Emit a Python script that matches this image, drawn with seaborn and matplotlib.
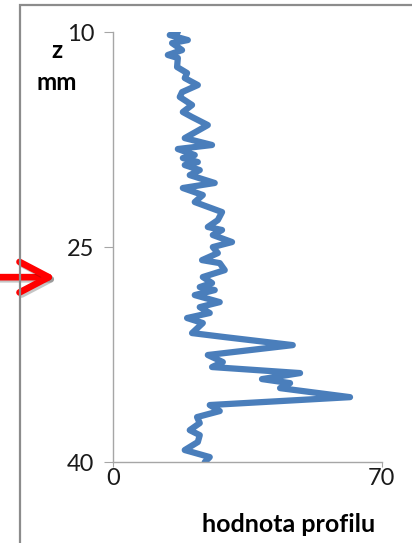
#%% imports
import numpy as np
import pandas as pd
import matplotlib
matplotlib.use("Agg")
import matplotlib.pyplot as plt
import matplotlib.patheffects as pe
from matplotlib.patches import Rectangle
import seaborn as sns

#%% data (depth z in mm, profile value)
depth = [10.0, 10.21, 10.56, 10.77, 11.26, 11.60, 11.81, 12.44, 12.86, 13.21,
         13.70, 14.19, 14.53, 15.09, 15.58, 15.93, 16.49, 17.40, 17.88, 18.16,
         18.58, 18.79, 19.07, 19.28, 19.63, 19.98, 20.53, 20.88, 21.37, 21.86,
         22.56, 23.12, 23.60, 23.81, 24.16, 24.65, 25.00, 25.42, 25.91, 26.12,
         26.61, 27.09, 27.51, 27.79, 28.00, 28.35, 28.84, 29.19, 29.60, 29.95,
         30.30, 31.00, 31.28, 31.84, 32.53, 33.02, 33.37, 33.79, 34.21, 34.49,
         34.84, 35.47, 36.02, 36.44, 36.86, 37.28, 37.77, 38.12, 38.60, 39.16,
         39.65, 40.0]
profile = [16.9, 14.8, 19.5, 15.4, 18.0, 14.3, 16.9, 16.7, 19.3, 18.7,
           22.1, 18.0, 17.4, 20.6, 18.2, 20.6, 24.7, 18.7, 25.8, 16.9,
           21.3, 18.2, 22.1, 18.7, 22.6, 20.0, 26.5, 18.2, 23.4, 21.3,
           28.4, 27.3, 24.7, 28.4, 26.0, 31.0, 26.0, 27.3, 23.2, 27.8,
           29.1, 23.4, 25.8, 22.6, 26.5, 21.3, 27.8, 22.6, 25.2, 19.3,
           23.4, 20.6, 29.1, 46.8, 24.7, 28.6, 25.8, 48.7, 38.8, 46.1,
           43.5, 61.7, 25.2, 27.8, 21.9, 22.6, 20.0, 22.6, 22.1, 18.7,
           25.2, 23.9]

y_ticks = [10, 25, 40]
x_ticks = [0, 70]
arrow_depth = 27.1

df = pd.DataFrame({"z": depth, "hodnota": profile})

#%% style
sns.set_theme(style="white")
plt.rcParams["font.family"] = ["Lato", "DejaVu Sans"]

fig = plt.figure(figsize=(4.12, 5.43), dpi=100)
ax = fig.add_axes([0.274, 0.149, 0.653, 0.792])

sns.lineplot(data=df, x="hodnota", y="z", sort=False, estimator=None,
             color="#4a7ebb", linewidth=4.5, ax=ax,
             solid_joinstyle="round", solid_capstyle="round")

ax.set_xlim(0, 70)
ax.set_ylim(40, 10)
ax.set_xticks(x_ticks)
ax.set_yticks(y_ticks)
ax.set_xlabel("")
ax.set_ylabel("")

for side in ["top", "right"]:
    ax.spines[side].set_visible(False)
for side in ["left", "bottom"]:
    ax.spines[side].set_color("#a6a6a6")
    ax.spines[side].set_linewidth(1.0)

ax.tick_params(axis="y", direction="out", length=6.5, width=0.8,
               color="#a6a6a6", pad=7, labelsize=17, labelcolor="#1a1a1a")
ax.tick_params(axis="x", direction="out", length=3.5, width=0.8,
               color="#a6a6a6", pad=1, labelsize=17, labelcolor="#1a1a1a")
ax.tick_params(left=True, bottom=True)

# axis captions
fig.text(57 / 412, 1 - 50 / 543, "z", ha="center", va="center",
         fontsize=17.5, fontweight="bold", color="black")
fig.text(57 / 412, 1 - 83 / 543, "mm", ha="center", va="center",
         fontsize=17.5, fontweight="bold", color="black")
fig.text(289 / 412, 1 - 525 / 543, "hodnota profilu", ha="center",
         va="center", fontsize=18, fontweight="bold", color="black")

# red arrow pointing at the depth of interest
ax.annotate("", xy=(-0.212, arrow_depth), xytext=(-0.45, arrow_depth),
            xycoords=("axes fraction", "data"),
            textcoords=("axes fraction", "data"),
            arrowprops=dict(arrowstyle="->,head_length=1.05,head_width=0.55",
                            mutation_scale=20,
                            color="red", lw=4.8, capstyle="round",
                            joinstyle="round", shrinkA=0, shrinkB=0,
                            path_effects=[pe.SimpleLineShadow(offset=(1.5, -1.5), alpha=0.25),
                                          pe.Normal()]),
            annotation_clip=False)

# outer chart frame
fig.patches.append(Rectangle((20 / 412, -0.2), 1.2, 1.2 - 5 / 543,
                             transform=fig.transFigure, fill=False,
                             edgecolor="#8c8c8c", linewidth=1.6))

fig.savefig("out.png", dpi=100)
